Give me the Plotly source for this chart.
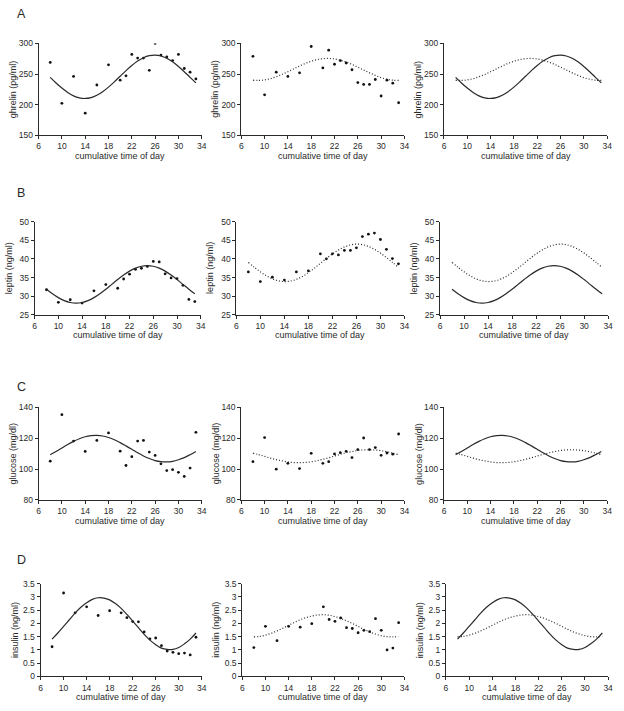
import plotly.graph_objects as go

W, H = 624, 711

hours = [8, 10, 12, 14, 16, 18, 20, 21, 22, 23, 24, 25, 26, 27, 28, 29, 30, 31, 32, 33]
fit_hours = list(range(8, 34))
x_ticks = [6, 10, 14, 18, 22, 26, 30, 34]

ghrelin_1 = [269, 202, 246, 186, 232, 265, 240, 247, 282, 276, 276, 256, 300, 281, 278, 272, 282, 259, 253, 242]
ghrelin_2 = [279, 216, 253, 246, 252, 295, 260, 289, 266, 272, 268, 257, 236, 233, 233, 241, 214, 240, 235, 203]
ghrelin_fit_1 = [244.6, 235.4, 227.0, 219.8, 214.3, 211.0, 210.0, 211.4, 215.2, 221.1, 228.6, 237.2, 246.4,
                 255.6, 264.0, 271.2, 276.7, 280.0, 281.0, 279.5, 275.8, 269.9, 262.4, 253.8, 244.6, 235.4]
ghrelin_fit_2 = [239.9, 239.5, 240.4, 242.4, 245.5, 249.3, 253.8, 258.4, 263.1, 267.3, 270.9, 273.5, 275.1,
                 275.5, 274.6, 272.6, 269.5, 265.7, 261.2, 256.6, 251.9, 247.7, 244.1, 241.5, 239.9, 239.5]

leptin_1 = [31.7, 28.3, 29.0, 28.1, 31.4, 33.1, 32.1, 34.6, 35.9, 37.2, 37.5, 38.0, 39.35, 39.2, 36.0, 34.9, 34.7, 32.9, 29.1, 28.5]
leptin_2 = [36.5, 33.9, 35.1, 34.3, 36.5, 36.8, 41.4, 40.05, 41.4, 41.1, 42.3, 42.3, 43.0, 46.05, 46.7, 47.0, 45.25, 42.6, 40.1, 38.7]
leptin_fit_1 = [31.84, 30.63, 29.58, 28.78, 28.27, 28.10, 28.27, 28.78, 29.58, 30.63, 31.84, 33.15, 34.46,
                35.68, 36.72, 37.52, 38.03, 38.20, 38.03, 37.52, 36.72, 35.68, 34.46, 33.15, 31.84, 30.63]
leptin_fit_2 = [39.08, 37.77, 36.54, 35.48, 34.64, 34.10, 33.90, 34.04, 34.51, 35.29, 36.31, 37.52, 38.82,
                40.13, 41.36, 42.42, 43.26, 43.79, 44.00, 43.86, 43.39, 42.61, 41.59, 40.38, 39.08, 37.77]

glucose_1 = [105.1, 135.2, 118.1, 111.4, 118.5, 123.4, 111.6, 102.3, 108.0, 118.1, 118.5, 111.0, 108.8, 103.4, 99.0, 99.6, 97.9, 95.2, 100.6, 123.8]
glucose_2 = [104.8, 120.4, 99.9, 103.7, 100.3, 110.2, 103.7, 104.8, 109.8, 110.6, 111.5, 107.4, 112.6, 120.1, 112.6, 113.9, 108.9, 110.4, 109.6, 122.7]
glucose_fit_1 = [109.3, 111.4, 113.6, 115.9, 117.9, 119.6, 120.9, 121.6, 121.8, 121.4, 120.4, 119.0, 117.1,
                 115.0, 112.8, 110.5, 108.5, 106.8, 105.5, 104.8, 104.6, 105.0, 106.0, 107.4, 109.3, 111.4]
glucose_fit_2 = [110.3, 109.3, 108.2, 107.1, 106.1, 105.3, 104.6, 104.2, 104.1, 104.3, 104.7, 105.4, 106.3,
                 107.3, 108.4, 109.5, 110.5, 111.3, 112.0, 112.4, 112.5, 112.3, 111.9, 111.2, 110.3, 109.3]

insulin_1 = [1.12, 3.15, 2.40, 2.63, 2.30, 2.48, 2.40, 2.22, 2.07, 2.06, 1.68, 1.42, 1.45, 1.16, 0.96, 0.91, 0.86, 0.88, 0.81, 1.48]
insulin_2 = [1.09, 1.89, 1.35, 1.89, 1.86, 1.99, 2.63, 2.15, 2.08, 2.21, 1.84, 1.81, 1.65, 1.74, 1.69, 2.18, 1.74, 1.00, 1.07, 2.03]
insulin_fit_1 = [1.41, 1.64, 1.89, 2.14, 2.39, 2.61, 2.78, 2.91, 2.97, 2.96, 2.89, 2.75, 2.57,
                 2.34, 2.09, 1.84, 1.59, 1.37, 1.20, 1.07, 1.02, 1.02, 1.09, 1.23, 1.41, 1.64]
insulin_fit_2 = [1.49, 1.51, 1.56, 1.63, 1.72, 1.82, 1.93, 2.04, 2.14, 2.22, 2.28, 2.32, 2.33,
                 2.31, 2.26, 2.19, 2.10, 2.00, 1.89, 1.78, 1.68, 1.60, 1.54, 1.50, 1.49, 1.51]

row_letters = ["A", "B", "C", "D"]
y_titles = ["ghrelin (pg/ml)", "leptin (ng/ml)", "glucose (mg/dl)", "insulin (ng/ml)"]
y_ranges = [[150, 300], [25, 50], [80, 140], [0, 3.5]]
y_dticks = [50, 5, 20, 0.5]
x_title = "cumulative time of day"

rows = [
    (ghrelin_1, ghrelin_2, ghrelin_fit_1, ghrelin_fit_2),
    (leptin_1, leptin_2, leptin_fit_1, leptin_fit_2),
    (glucose_1, glucose_2, glucose_fit_1, glucose_fit_2),
    (insulin_1, insulin_2, insulin_fit_1, insulin_fit_2),
]

# layout in pixels (left, right) per row/column and (top, bottom) per row
col_px = [
    [(37, 202), (242, 407), (447, 612)],
    [(33, 201), (237, 407), (443, 613)],
    [(37, 202), (242, 407), (447, 612)],
    [(39, 202), (243, 407), (449, 613)],
]
row_px = [(39, 132), (220, 314), (408, 502), (587, 681)]
letter_y = [9, 191, 387, 563]

INK = "#2a2a2a"
FONT = "Liberation Sans, Arial, Helvetica, sans-serif"

fig = go.Figure()
annotations = []
layout_axes = {}

solid = dict(color=INK, width=1.2)
dotted = dict(color=INK, width=1.2, dash="1px,2px")
marker = dict(color="#111", size=2.8, symbol="circle", line=dict(width=0))

k = 0
for r in range(4):
    pts1, pts2, fit1, fit2 = rows[r]
    top, bot = row_px[r]
    for c in range(3):
        k += 1
        xa = "x" if k == 1 else f"x{k}"
        ya = "y" if k == 1 else f"y{k}"
        left, right = col_px[r][c]
        xdom = [left / W, right / W]
        ydom = [1 - bot / H, 1 - top / H]
        if c == 0:
            fig.add_trace(go.Scatter(x=hours, y=pts1, mode="markers", marker=marker, xaxis=xa, yaxis=ya))
            fig.add_trace(go.Scatter(x=fit_hours, y=fit1, mode="lines", line=solid, line_shape="spline", xaxis=xa, yaxis=ya))
        elif c == 1:
            fig.add_trace(go.Scatter(x=hours, y=pts2, mode="markers", marker=marker, xaxis=xa, yaxis=ya))
            fig.add_trace(go.Scatter(x=fit_hours, y=fit2, mode="lines", line=dotted, line_shape="spline", xaxis=xa, yaxis=ya))
        else:
            fig.add_trace(go.Scatter(x=fit_hours, y=fit1, mode="lines", line=solid, line_shape="spline", xaxis=xa, yaxis=ya))
            fig.add_trace(go.Scatter(x=fit_hours, y=fit2, mode="lines", line=dotted, line_shape="spline", xaxis=xa, yaxis=ya))

        axcommon = dict(showline=True, linecolor=INK, linewidth=1, ticks="outside", ticklen=3,
                        tickwidth=1, tickcolor=INK, showgrid=False, zeroline=False,
                        tickfont=dict(family=FONT, size=8.5, color=INK), fixedrange=True)
        layout_axes["xaxis" if k == 1 else f"xaxis{k}"] = dict(
            domain=xdom, range=[6, 34], tickvals=x_ticks, anchor=ya, **axcommon)
        layout_axes["yaxis" if k == 1 else f"yaxis{k}"] = dict(
            domain=ydom, range=y_ranges[r], dtick=y_dticks[r], tick0=0, anchor=xa, **axcommon)

        annotations.append(dict(text=y_titles[r], xref="paper", yref="paper",
                                x=(left - 26) / W, y=1 - (top + bot) / 2 / H, textangle=-90,
                                showarrow=False, xanchor="center", yanchor="middle",
                                font=dict(family=FONT, size=9, color=INK)))
        annotations.append(dict(text=x_title, xref="paper", yref="paper",
                                x=(left + right) / 2 / W, y=1 - (bot + 21) / H,
                                showarrow=False, xanchor="center", yanchor="middle",
                                font=dict(family=FONT, size=9, color=INK)))
    annotations.append(dict(text=row_letters[r], xref="paper", yref="paper",
                            x=13 / W, y=1 - letter_y[r] / H, showarrow=False,
                            xanchor="left", yanchor="middle",
                            font=dict(family=FONT, size=12.5, color=INK)))

fig.update_layout(width=W, height=H, margin=dict(l=0, r=0, t=0, b=0),
                  plot_bgcolor="white", paper_bgcolor="white", showlegend=False,
                  annotations=annotations, **layout_axes)

fig.write_html("out.html", config={"displayModeBar": False},
               post_script="document.body.style.margin='0';document.body.style.overflow='hidden';")
